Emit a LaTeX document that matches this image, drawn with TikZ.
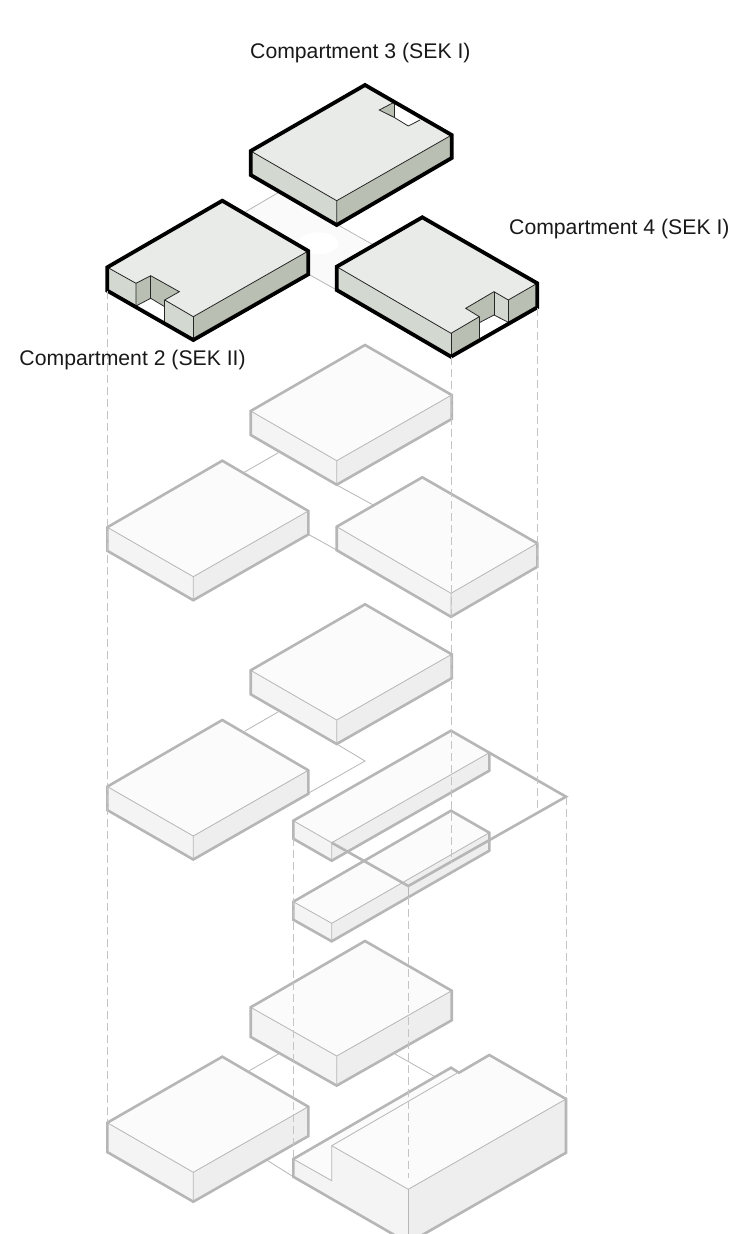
\documentclass[tikz,border=0pt]{standalone}
\usepackage{fontspec}
\setmainfont{Liberation Sans}
\usetikzlibrary{calc}
\definecolor{rimgrey}{HTML}{B6B6B6}
\definecolor{dashgrey}{HTML}{C4C4C4}
\definecolor{facetop}{HTML}{E9EBE8}
\definecolor{faceleft}{HTML}{D3D8D1}
\definecolor{faceright}{HTML}{B9C0B3}
\newcommand{\ghostbox}[5]{%
	\fill[ghosttop] #1 -- #2 -- #3 -- #4 -- cycle;
	\fill[ghostleft] #1 -- #4 -- ($#4+(0,#5)$) -- ($#1+(0,#5)$) -- cycle;
	\fill[ghostright] #3 -- #4 -- ($#4+(0,#5)$) -- ($#3+(0,#5)$) -- cycle;
	\draw[ghostedge] #1 -- #4 -- #3 #4 -- ($#4+(0,#5)$);
	\draw[ghostrim] #1 -- #2 -- #3 -- ($#3+(0,#5)$) -- ($#4+(0,#5)$) -- ($#1+(0,#5)$) -- cycle;
}

\begin{document}
\begin{tikzpicture}[
	x=1pt, y=-1pt,
	label/.style={font=\fontsize{21.2}{25}\selectfont, text=black!90, anchor=base west, inner sep=0pt},
	ghosttop/.style={fill=black!1.5},
	ghostleft/.style={fill=black!4.5},
	ghostright/.style={fill=black!6.5},
	ghostedge/.style={draw=rimgrey, line width=0.8pt},
	ghostrim/.style={draw=rimgrey, line width=2.6pt},
	planline/.style={draw=rimgrey, line width=0.8pt},
	drop/.style={draw=dashgrey, line width=0.9pt, dash pattern=on 8pt off 4pt},
	realedge/.style={draw=black!85, line width=0.8pt},
	realrim/.style={draw=black, line width=3.8pt},
	]
	\clip (0,0) rectangle (743,1234);
	
	%--- floor plate of the top level ---------------------------------------------
	\fill[black!2] (279,192) -- (385,253) -- (337,290) -- (222,225) -- cycle;
	\fill[white] (318.3,243.3) ellipse (20 and 11);
	\draw[planline] (278,192.7) -- (245.7,211.7);
	\draw[planline] (338,225) -- (371.7,244);
	\draw[planline] (310,275) -- (336.7,290);
	
	%--- compartment 3 ------------------------------------------------------------
	\fill[facetop] (250.7,151) -- (365,85) -- (451.7,135) -- (336.7,200.7) -- cycle;
	\fill[faceleft] (250.7,151) -- (336.7,200.7) -- (336.7,225) -- (250.7,175) -- cycle;
	\fill[faceright] (451.7,135) -- (336.7,200.7) -- (336.7,225) -- (451.7,158) -- cycle;
	\fill[white] (394,102.3) -- (420,120) -- (408.3,126) -- (394,117.3) -- cycle;
	\fill[faceright] (379.3,110) -- (394,102.3) -- (394,117.3) -- cycle;
	\draw[realedge] (394,102.3) -- (379.3,110) -- (394,117.3) -- (408.3,126) -- (420,120);
	\draw[realedge] (394,102.3) -- (394,117.3);
	\draw[realedge] (250.7,151) -- (336.7,200.7) -- (451.7,135) (336.7,200.7) -- (336.7,225);
	\draw[realrim] (250.7,151) -- (365,85) -- (451.7,135) -- (451.7,158) -- (336.7,225) -- (250.7,175) -- cycle;
	
	%--- compartment 2 ------------------------------------------------------------
	\fill[facetop] (107.3,267.3) -- (222.3,200.7) -- (308.3,251) -- (193.3,316.7)
	-- (164.7,300) -- (179.3,291.7) -- (150.7,275.7) -- (136,283.3) -- cycle;
	\fill[faceleft] (107.3,267.3) -- (136,283.3) -- (136,306) -- (107.3,290.7) -- cycle;
	\fill[faceleft] (164.7,300) -- (193.3,316.7) -- (193.3,340) -- (164.7,323) -- cycle;
	\fill[faceright] (308.3,251) -- (193.3,316.7) -- (193.3,340) -- (308.3,274.3) -- cycle;
	\fill[faceright] (136,283.3) -- (150.7,275.7) -- (150.7,298.3) -- (136,306) -- cycle;
	\fill[faceright] (150.7,275.7) -- (179.3,291.7) -- (164.7,300) -- (164.7,306.7) -- (150.7,298.3) -- cycle;
	\fill[white] (136,306) -- (150.7,298.3) -- (164.7,306.7) -- (164.7,323) -- cycle;
	\draw[realedge] (107.3,267.3) -- (136,283.3) -- (150.7,275.7) -- (179.3,291.7) -- (164.7,300) -- (193.3,316.7) -- (308.3,251);
	\draw[realedge] (136,283.3) -- (136,306) -- (150.7,298.3) -- (164.7,306.7);
	\draw[realedge] (150.7,275.7) -- (150.7,298.3);
	\draw[realedge] (164.7,300) -- (164.7,323);
	\draw[realedge] (193.3,316.7) -- (193.3,340);
	\draw[realrim] (107.3,267.3) -- (222.3,200.7) -- (308.3,251) -- (308.3,274.3) -- (193.3,340) -- (107.3,290.7) -- cycle;
	
	%--- compartment 4 ------------------------------------------------------------
	\fill[facetop] (336.7,266.7) -- (422.3,217.3) -- (537.3,283.3) -- (508.3,300) -- (494,291.7)
	-- (465.7,308.3) -- (479.3,316.7) -- (451,333.3) -- cycle;
	\fill[faceleft] (336.7,266.7) -- (451,333.3) -- (451,356.7) -- (336.7,290) -- cycle;
	\fill[faceright] (451,333.3) -- (479.3,316.7) -- (479.3,340) -- (451,356.7) -- cycle;
	\fill[faceright] (508.3,300) -- (537.3,283.3) -- (537.3,307.3) -- (508.3,322) -- cycle;
	\fill[faceright] (465.7,308.3) -- (494,291.7) -- (494,315) -- (479.3,322.7) -- (479.3,316.7) -- cycle;
	\fill[faceleft] (494,291.7) -- (508.3,300) -- (508.3,322) -- (494,315) -- cycle;
	\fill[white] (479.3,322.7) -- (494,315) -- (508.3,322.3) -- (479.3,338) -- cycle;
	\draw[realedge] (336.7,266.7) -- (451,333.3) -- (479.3,316.7) -- (465.7,308.3) -- (494,291.7) -- (508.3,300) -- (537.3,283.3);
	\draw[realedge] (451,333.3) -- (451,356.7);
	\draw[realedge] (479.3,316.7) -- (479.3,338);
	\draw[realedge] (479.3,322.7) -- (494,315) -- (508.3,322.3);
	\draw[realedge] (494,291.7) -- (494,315);
	\draw[realedge] (508.3,300) -- (508.3,322.3);
	\draw[realrim] (336.7,266.7) -- (422.3,217.3) -- (537.3,283.3) -- (537.3,307.3) -- (451,356.7) -- (336.7,290) -- cycle;
	
	%--- second level --------------------------------------------------------------
	\draw[planline] (278.3,452.7) -- (244.3,472.3);
	\draw[planline] (336.7,485) -- (373.3,505);
	\draw[planline] (308.3,534.3) -- (336.7,550);
	\ghostbox{(250.7,411)}{(365,345)}{(451.7,395)}{(336.7,460.7)}{24}
	\ghostbox{(107.3,527.3)}{(222.3,460.7)}{(308.3,511)}{(193.3,576.7)}{23.5}
	\ghostbox{(336.7,526.7)}{(422.3,477.3)}{(537.3,543.3)}{(451,593.3)}{23.5}
	
	%--- third level ---------------------------------------------------------------
	\draw[planline] (278,712) -- (245,731);
	\draw[planline] (336.7,744) -- (365,761) -- (308.3,793.3);
	\ghostbox{(250.7,670.3)}{(365,604.3)}{(451.7,654.3)}{(336.7,720)}{24}
	\ghostbox{(107.3,786.6)}{(222.3,720)}{(308.3,770.3)}{(193.3,836)}{23.5}
	\ghostbox{(293.3,820.7)}{(451,730.7)}{(489.3,752.7)}{(331.7,842.7)}{18}
	\ghostbox{(293.3,901.7)}{(451,810.7)}{(489.3,832.7)}{(331.7,923.3)}{18}
	\draw[ghostrim] (489.3,752.7) -- (566,796.7) -- (408.3,886) -- (331.7,842.7);
	\draw[ghostedge, line width=1.2pt] (408.3,886) -- (408.3,897);
	
	%--- fourth level --------------------------------------------------------------
	\draw[planline] (278.3,1054) -- (249.3,1070.7);
	\draw[planline] (395,1054) -- (435,1076.7);
	\draw[planline] (266.7,1160) -- (293.3,1176.7);
	\ghostbox{(250.7,1007.3)}{(365,941)}{(451.7,990.7)}{(336.7,1056)}{29.6}
	\ghostbox{(107.3,1122.7)}{(222.3,1056.7)}{(308.3,1106.7)}{(193.3,1172.3)}{29.4}
	\fill[ghosttop] (293.3,1159) -- (451,1067.7) -- (459,1072.7) -- (489.3,1055) -- (566,1099)
	-- (408.3,1189.3) -- (331.7,1145.7) -- (331.7,1180.7) -- cycle;
	\fill[ghostleft] (293.3,1159) -- (331.7,1180.7) -- (331.7,1145.7) -- (408.3,1189.3)
	-- (408.3,1243) -- (293.3,1176.7) -- cycle;
	\fill[ghostright] (408.3,1189.3) -- (566,1099) -- (566,1152.7) -- (408.3,1243) -- cycle;
	\draw[ghostedge] (293.3,1159) -- (331.7,1180.7) -- (331.7,1145.7) -- (456.7,1073.3);
	\draw[ghostedge] (331.7,1145.7) -- (408.3,1189.3) -- (566,1099);
	\draw[ghostedge] (408.3,1189.3) -- (408.3,1243);
	\draw[ghostrim] (293.3,1159) -- (451,1067.7) -- (459,1072.7) -- (489.3,1055) -- (566,1099)
	-- (566,1152.7) -- (408.3,1243) -- (293.3,1176.7) -- cycle;
	
	%--- drop lines ----------------------------------------------------------------
	\draw[drop] (107.3,291) -- (107.3,1122);
	\draw[drop] (451,357) -- (451,863);
	\draw[drop] (537.3,308) -- (537.3,811);
	\draw[drop] (293.3,838) -- (293.3,1158);
	\draw[drop] (408.3,897) -- (408.3,1178);
	\draw[drop] (566,797) -- (566,1099);
	
	%--- labels --------------------------------------------------------------------
	\node[label] (comp3) at (250,58.5) {Compartment 3 (SEK I)};
	\node[label] (comp4) at (509,234.5) {Compartment 4 (SEK I)};
	\node[label] (comp2) at (19.3,365) {Compartment 2 (SEK II)};
\end{tikzpicture}
\end{document}
